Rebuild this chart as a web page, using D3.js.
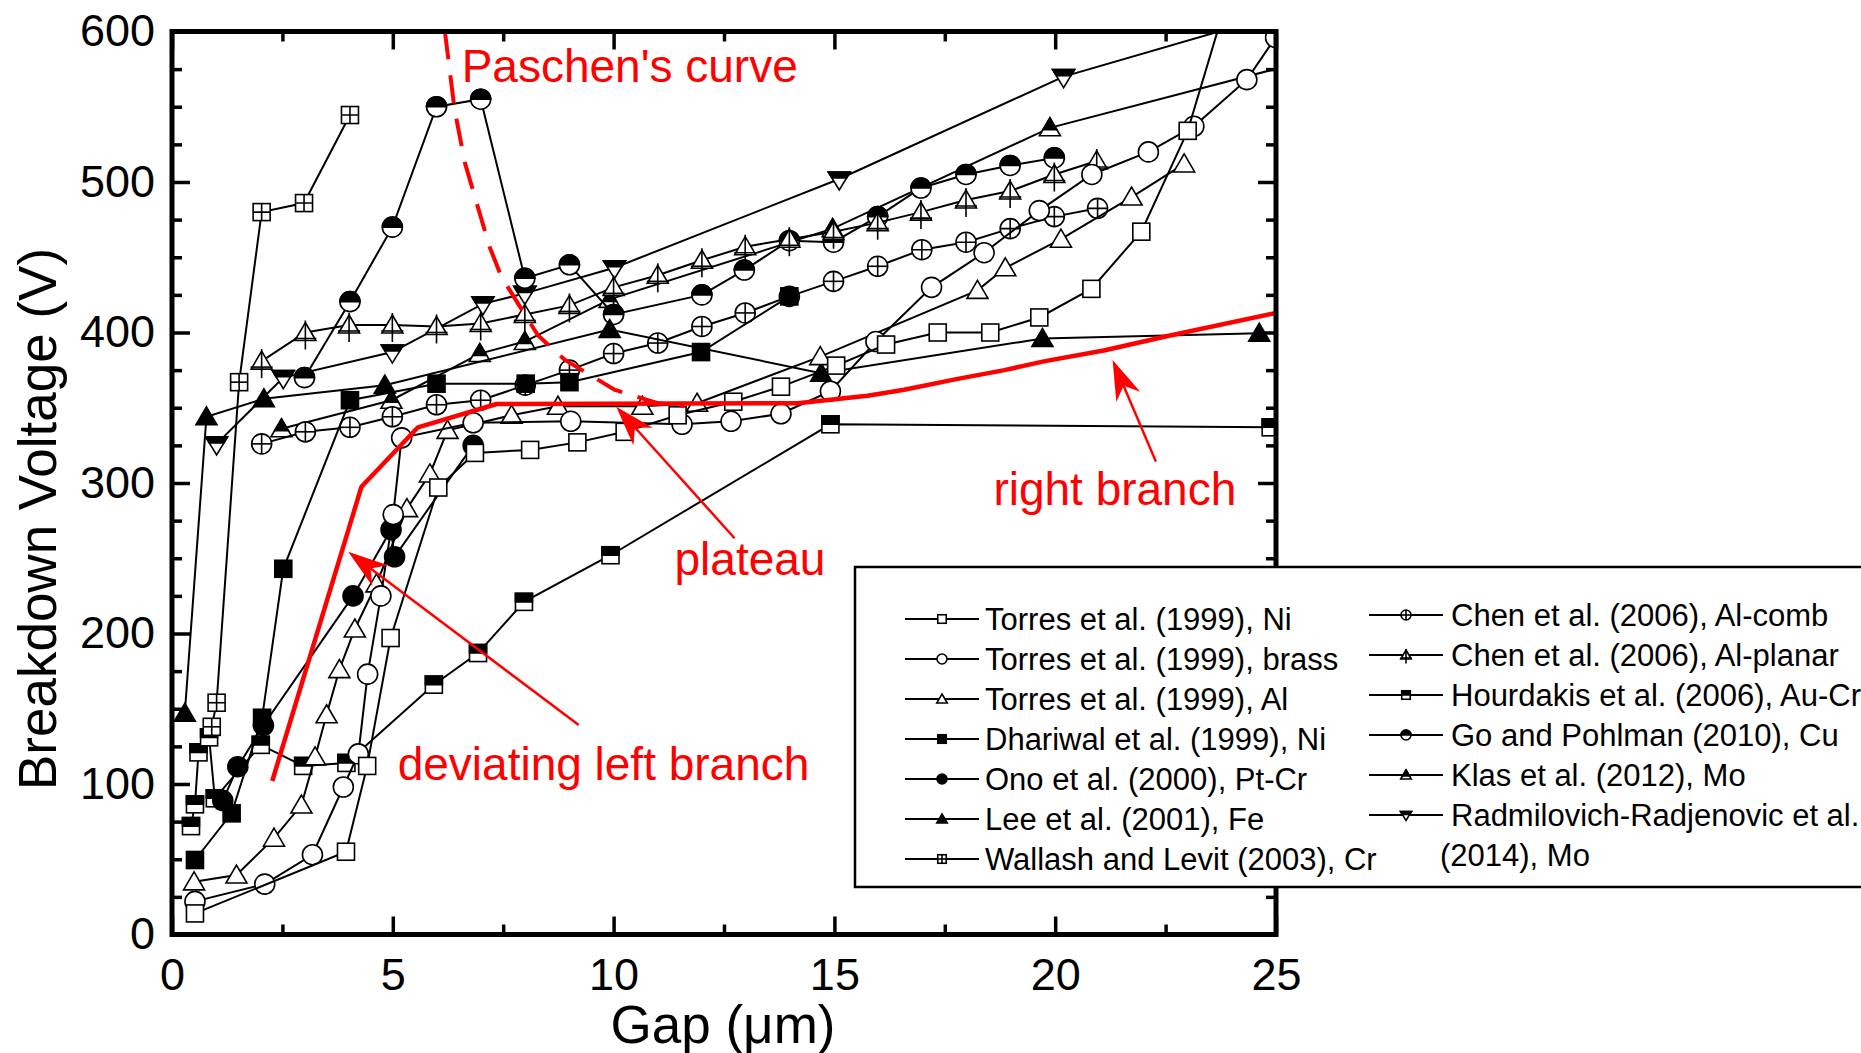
<!DOCTYPE html>
<html>
<head>
<meta charset="utf-8">
<title>Breakdown voltage vs gap</title>
<script src="https://cdn.jsdelivr.net/npm/d3@7"></script>
<style>
body { margin: 0; background: #fff; }
text { font-family: "Liberation Sans", Arial, sans-serif; }
</style>
</head>
<body>
<div id="chart"></div>
<script>

// ---- data: [gap (um), breakdown voltage (V)] ----
const torresNi = [[0.52,14],[3.94,55],[4.42,112],[4.95,197],[6.03,297],[6.86,320],[8.11,322],[9.18,327],[10.25,334],[11.45,345],[12.71,354],[13.79,364],[15.04,378],[16.17,392],[17.34,400],[18.53,400],[19.64,410],[20.82,429],[21.95,467],[23.0,534],[25.0,730]];
const torresBrass = [[0.52,22],[2.1,33.5],[3.18,53],[3.88,98],[4.22,120],[4.43,173],[4.73,225],[5.01,279],[5.2,330],[6.82,340],[9.03,341],[11.55,339],[12.66,341],[13.79,346],[14.91,361],[15.94,394],[17.2,430],[18.39,453],[19.64,481],[20.83,505],[22.11,520],[23.14,537],[24.34,568],[24.99,596]];
const torresAl = [[0.5,35],[1.46,39.5],[2.31,64],[2.93,86],[3.24,118],[3.5,146],[3.79,176],[4.14,203],[4.63,233],[5.32,283],[5.84,306],[6.24,335],[7.69,345],[8.74,351],[10.65,351],[11.89,353],[14.68,384],[18.24,428],[18.87,443],[20.13,462],[21.73,490],[22.92,512]];
const dhariwal = [[0.52,49.5],[1.35,80.5],[2.04,144],[2.52,243],[4.03,355],[5.99,366],[8.01,366],[9.0,367],[11.98,387],[13.98,424]];
const ono = [[1.15,89],[1.49,111.5],[2.07,139],[4.1,225],[4.96,269],[5.04,251],[6.82,325]];
const lee = [[0.29,147],[0.78,344],[2.08,356],[4.82,365],[9.91,402],[14.7,373],[19.71,396],[24.62,399.5]];
const wallash = [[0.9,138],[1.01,154],[1.52,367],[2.03,480],[2.99,486],[4.03,544.5]];
const chenComb = [[2.03,326],[3.02,334],[4.03,337],[4.99,344],[5.99,352],[6.99,355],[8.0,365],[9.0,375],[10.0,386],[11.0,393],[12.0,404],[12.98,413],[13.98,424],[14.98,434],[15.98,444],[16.98,455],[17.98,460],[18.98,469],[19.98,477],[20.96,482.5]];
const chenPlanar = [[2.03,381],[3.02,400],[4.01,405],[4.99,405],[5.99,404],[6.99,406],[7.99,412],[9.0,418],[10.0,430],[11.0,438],[12.0,448],[12.98,457],[13.98,462],[14.98,467],[15.98,473],[16.96,480],[17.98,488],[18.98,494],[19.98,505],[20.94,514]];
const hourdakis = [[0.43,72],[0.52,86.5],[0.6,121],[0.84,131],[0.97,90.5],[2.01,126],[2.97,112],[3.95,114],[5.93,166],[6.93,187],[7.97,221],[9.93,252],[14.91,339],[24.88,337]];
const goPohlman = [[3.0,370],[4.03,420.5],[4.99,470],[5.99,550],[6.99,555],[7.99,436],[9.0,445],[10.0,412],[12.0,425],[12.96,441.5],[13.98,461],[14.98,460],[15.98,477],[16.96,496],[17.98,505],[18.98,511],[19.98,516]];
const klas = [[2.48,336],[4.97,355],[6.97,386],[7.99,394],[9.91,422],[14.96,469],[19.88,536],[25.5,579]];
const radmilovich = [[1.01,326],[2.52,370],[4.99,387],[7.04,419],[7.99,426],[10.02,443],[15.11,502],[20.19,570],[25.0,611]];

// red guide curves
const paschen = [[6.18,600],[6.4,548],[6.63,513],[6.92,484],[7.19,457],[7.46,437],[7.84,419],[8.29,398],[8.89,382],[10.02,362],[11.0,353],[11.6,351]];
const measured = [[2.27,102],[4.29,297.5],[5.57,337],[7.35,352.5],[14.17,353],[15.75,358],[16.58,362],[17.76,369],[18.85,375],[19.77,381],[21.1,388],[22.6,398],[25,413]];

const seriesNames = ["Torres et al. (1999), Ni", "Torres et al. (1999), brass", "Torres et al. (1999), Al",
	"Dhariwal et al. (1999), Ni", "Ono et al. (2000), Pt-Cr", "Lee et al. (2001), Fe", "Wallash and Levit (2003), Cr",
	"Chen et al. (2006), Al-comb", "Chen et al. (2006), Al-planar", "Hourdakis et al. (2006), Au-Cr",
	"Go and Pohlman (2010), Cu", "Klas et al. (2012), Mo", "Radmilovich-Radjenovic et al.|(2014), Mo"];
const seriesData = [torresNi, torresBrass, torresAl, dhariwal, ono, lee, wallash, chenComb, chenPlanar, hourdakis, goPohlman, klas, radmilovich];
const seriesSymbols = ["sq", "ci", "tr", "fsq", "fci", "ftr", "gsq", "pci", "ptr", "hsq", "hci", "htr", "hdt"];

const xMajor = [0, 5, 10, 15, 20, 25];
const xMinor = [2.5, 7.5, 12.5, 17.5, 22.5];
const yMajor = [0, 100, 200, 300, 400, 500, 600];
const yMinor = d3.range(25, 600, 25).filter(v => v % 100 != 0);

// annotations: text, [gap, V] of the text start
const notes = [["Paschen's curve", [6.56, 566.4]], ["plateau", [11.38, 238.9]], ["right branch", [18.6, 285.4]], ["deviating left branch", [5.11, 102.7]]];
// arrows: tail, tip
const arrows = [[[9.21, 139.2], [3.99, 254.4]], [[12.74, 263.3], [10.06, 350.7]], [[22.28, 314.2], [21.3, 381.7]]];

// ---- drawing ----
const width = 1861, height = 1053;
const plot = {left: 172, right: 1276, top: 31.5, bottom: 934.5};

let x = d3.scaleLinear().domain([0, 25]).range([plot.left, plot.right]);
let y = d3.scaleLinear().domain([0, 600]).range([plot.bottom, plot.top]);
let line = d3.line().x(d => x(d[0])).y(d => y(d[1]));

let svg = d3.select("#chart").append("svg")
	.attr("width", width)
	.attr("height", height);

svg.append("rect").attr("width", width).attr("height", height).attr("fill", "#fff");

svg.append("defs").append("clipPath").attr("id", "plotclip")
	.append("rect")
	.attr("x", plot.left).attr("y", plot.top)
	.attr("width", plot.right - plot.left).attr("height", plot.bottom - plot.top);

const poly = pts => "M" + pts.map(p => p.join(",")).join("L") + "Z";

function drawMarker(g, type, k) {
	const sq = 8.5 * k, r = 10 * k;
	const kind = type.slice(-2);
	let s;
	if (kind == "sq") s = g.append("rect").attr("x", -sq).attr("y", -sq).attr("width", 2 * sq).attr("height", 2 * sq);
	else if (kind == "ci") s = g.append("circle").attr("r", r);
	else if (kind == "tr") s = g.append("path").attr("d", poly([[0, -10 * k], [10.5 * k, 8 * k], [-10.5 * k, 8 * k]]));
	else s = g.append("path").attr("d", poly([[-11 * k, -7 * k], [11 * k, -7 * k], [0, 11 * k]]));
	s.attr("fill", type[0] == "f" ? "#000" : "#fff").attr("stroke", "#000").attr("stroke-width", 1.6);

	// half filled: black above the symbol centre (centroid for triangles)
	if (type[0] == "h") {
		let d;
		if (kind == "sq") d = poly([[-sq, -sq], [sq, -sq], [sq, 0], [-sq, 0]]);
		else if (kind == "ci") d = `M${-r},0A${r},${r} 0 0 1 ${r},0Z`;
		else if (kind == "tr") d = poly([[0, -10 * k], [7 * k, 2 * k], [-7 * k, 2 * k]]);
		else d = poly([[-11 * k, -7 * k], [11 * k, -7 * k], [7.33 * k, -1 * k], [-7.33 * k, -1 * k]]);
		g.append("path").attr("d", d).attr("fill", "#000").attr("stroke", "#000").attr("stroke-width", 1.6);
	}
	let cross = null;
	if (type == "gsq") cross = [[0, -sq, 0, sq], [-sq, 0, sq, 0]];
	if (type == "pci") cross = [[0, -r, 0, r], [-r, 0, r, 0]];
	if (type == "ptr") cross = [[0, -12 * k, 0, 17 * k], [-11 * k, 6 * k, 11 * k, 6 * k]];
	if (cross) cross.forEach(c => g.append("line")
		.attr("x1", c[0]).attr("y1", c[1]).attr("x2", c[2]).attr("y2", c[3])
		.attr("stroke", "#000").attr("stroke-width", 1.6));
}

let dataG = svg.append("g").attr("clip-path", "url(#plotclip)");

// later series first, so the first legend entries end up on top
for (let i = seriesData.length - 1; i >= 0; i--) {
	let g = dataG.append("g").attr("class", "series_" + i);
	g.append("path")
		.datum(seriesData[i])
		.attr("d", line)
		.attr("fill", "none")
		.attr("stroke", "#000")
		.attr("stroke-width", 2);
	g.selectAll("g.pt")
		.data(seriesData[i])
		.enter().append("g")
		.attr("class", "pt")
		.attr("transform", d => `translate(${x(d[0])},${y(d[1])})`)
		.each(function() { drawMarker(d3.select(this), seriesSymbols[i], 1); });
}

// red curves
dataG.append("path")
	.datum(measured)
	.attr("d", line)
	.attr("fill", "none")
	.attr("stroke", "#f00")
	.attr("stroke-width", 4.5)
	.attr("stroke-linejoin", "round");

dataG.append("path")
	.datum(paschen)
	.attr("d", line)
	.attr("fill", "none")
	.attr("stroke", "#f00")
	.attr("stroke-width", 4)
	.attr("stroke-dasharray", "28,16");

// arrows
arrows.forEach(a => {
	const tx = x(a[0][0]), ty = y(a[0][1]), px = x(a[1][0]), py = y(a[1][1]);
	const L = Math.hypot(tx - px, ty - py);
	const ux = (tx - px) / L, uy = (ty - py) / L, nx = -uy, ny = ux;
	const len = 40, hw = 13, notch = 28;
	svg.append("line")
		.attr("x1", tx).attr("y1", ty)
		.attr("x2", px + ux * notch).attr("y2", py + uy * notch)
		.attr("stroke", "#f00").attr("stroke-width", 2.5);
	svg.append("path")
		.attr("d", poly([[px, py], [px + ux * len + nx * hw, py + uy * len + ny * hw],
			[px + ux * notch, py + uy * notch], [px + ux * len - nx * hw, py + uy * len - ny * hw]]))
		.attr("fill", "#f00");
});

notes.forEach(n => {
	svg.append("text")
		.attr("x", x(n[1][0]))
		.attr("y", y(n[1][1]))
		.attr("font-size", 46)
		.attr("fill", "#f00")
		.text(n[0]);
});

// axes
function styleAxis(g) {
	g.select(".domain").remove();
	g.selectAll(".tick line").attr("stroke", "#000").attr("stroke-width", 3.5);
	g.attr("font-size", 45).attr("font-family", "Liberation Sans, Arial, sans-serif");
	g.selectAll(".tick text").attr("fill", "#000");
}
const noLabel = () => "";

svg.append("g").attr("transform", `translate(0,${plot.bottom})`)
	.call(d3.axisBottom(x).tickValues(xMajor).tickSize(-18).tickPadding(24).tickFormat(d3.format("d")))
	.call(styleAxis);
svg.append("g").attr("transform", `translate(0,${plot.bottom})`)
	.call(d3.axisBottom(x).tickValues(xMinor).tickSize(-10).tickFormat(noLabel))
	.call(styleAxis);
svg.append("g").attr("transform", `translate(0,${plot.top})`)
	.call(d3.axisTop(x).tickValues(xMajor).tickSize(-18).tickFormat(noLabel))
	.call(styleAxis);
svg.append("g").attr("transform", `translate(0,${plot.top})`)
	.call(d3.axisTop(x).tickValues(xMinor).tickSize(-10).tickFormat(noLabel))
	.call(styleAxis);
svg.append("g").attr("transform", `translate(${plot.left},0)`)
	.call(d3.axisLeft(y).tickValues(yMajor).tickSize(-18).tickPadding(17).tickFormat(d3.format("d")))
	.call(styleAxis);
svg.append("g").attr("transform", `translate(${plot.left},0)`)
	.call(d3.axisLeft(y).tickValues(yMinor).tickSize(-10).tickFormat(noLabel))
	.call(styleAxis);
svg.append("g").attr("transform", `translate(${plot.right},0)`)
	.call(d3.axisRight(y).tickValues(yMajor).tickSize(-18).tickFormat(noLabel))
	.call(styleAxis);
svg.append("g").attr("transform", `translate(${plot.right},0)`)
	.call(d3.axisRight(y).tickValues(yMinor).tickSize(-10).tickFormat(noLabel))
	.call(styleAxis);

svg.append("rect")
	.attr("x", plot.left).attr("y", plot.top)
	.attr("width", plot.right - plot.left).attr("height", plot.bottom - plot.top)
	.attr("fill", "none")
	.attr("stroke", "#000")
	.attr("stroke-width", 5);

svg.append("text")
	.attr("transform", "translate(56,519) rotate(-90)")
	.attr("text-anchor", "middle")
	.attr("font-size", 53)
	.text("Breakdown Voltage (V)");

svg.append("text")
	.attr("x", 723).attr("y", 1043)
	.attr("text-anchor", "middle")
	.attr("font-size", 53)
	.text("Gap (\u03bcm)");

// legend, drawn over the right axis
let leg = svg.append("g");
leg.append("rect")
	.attr("x", 855).attr("y", 567)
	.attr("width", 1100).attr("height", 320)
	.attr("fill", "#fff")
	.attr("stroke", "#000")
	.attr("stroke-width", 2.5);

seriesNames.forEach((name, i) => {
	const col = i < 7 ? 0 : 1, row = col ? i - 7 : i;
	const lx = col ? 1369 : 905;
	const cy = (col ? 615 : 619) + 40 * row;
	leg.append("line")
		.attr("x1", lx).attr("x2", lx + 74)
		.attr("y1", cy).attr("y2", cy)
		.attr("stroke", "#000").attr("stroke-width", 2);
	drawMarker(leg.append("g").attr("transform", `translate(${lx + 37},${cy})`), seriesSymbols[i], 0.5);
	const parts = name.split("|");
	leg.append("text")
		.attr("x", col ? 1451 : 985).attr("y", cy)
		.attr("dy", "0.35em")
		.attr("font-size", 31)
		.text(parts[0]);
	if (parts[1]) {
		leg.append("text")
			.attr("x", 1440).attr("y", cy + 40)
			.attr("dy", "0.35em")
			.attr("font-size", 31)
			.text(parts[1]);
	}
});

</script>
</body>
</html>
